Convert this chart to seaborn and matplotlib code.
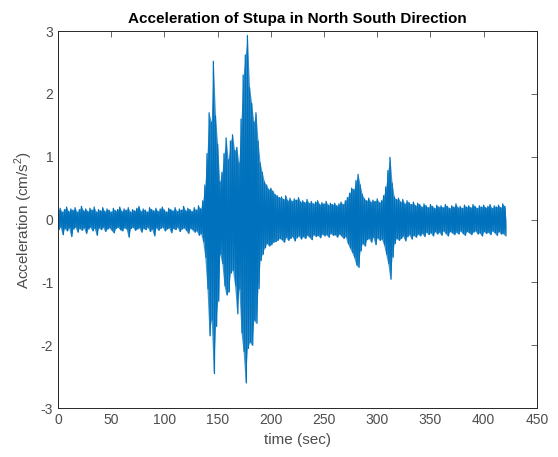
import numpy as np
import pandas as pd
import seaborn as sns
import matplotlib.pyplot as plt

# peak envelope, one pair (upper, lower) every 2 s
upper_pre = [0.14, 0.18, 0.12, 0.16, 0.20, 0.13, 0.17, 0.15, 0.19, 0.12,
             0.16, 0.21, 0.14, 0.17, 0.13, 0.18, 0.15, 0.20, 0.12, 0.16,
             0.14, 0.19, 0.13, 0.17, 0.15, 0.12, 0.18, 0.14, 0.16, 0.20,
             0.13, 0.17, 0.15, 0.19, 0.12, 0.16, 0.14, 0.18, 0.21, 0.13,
             0.17, 0.15, 0.12, 0.19, 0.16, 0.14, 0.18, 0.13, 0.17, 0.20,
             0.15, 0.12, 0.18, 0.16, 0.14, 0.19, 0.13, 0.17, 0.15, 0.21,
             0.14, 0.18, 0.16, 0.13, 0.19, 0.15, 0.22, 0.17]
lower_pre = [-0.16, -0.12, -0.24, -0.14, -0.18, -0.13, -0.27, -0.15, -0.12, -0.20,
             -0.14, -0.17, -0.13, -0.22, -0.15, -0.12, -0.18, -0.14, -0.25, -0.13,
             -0.16, -0.12, -0.19, -0.15, -0.13, -0.17, -0.21, -0.14, -0.12, -0.16,
             -0.18, -0.13, -0.15, -0.28, -0.14, -0.12, -0.17, -0.15, -0.13, -0.20,
             -0.14, -0.16, -0.12, -0.19, -0.15, -0.26, -0.13, -0.17, -0.14, -0.12,
             -0.18, -0.15, -0.13, -0.21, -0.14, -0.16, -0.12, -0.19, -0.15, -0.13,
             -0.17, -0.22, -0.14, -0.16, -0.20, -0.18, -0.25, -0.22]

# main shaking, 136 s .. 208 s
upper_event = [0.30, 0.55, 1.05, 1.70, 1.55, 2.52, 1.65, 1.20, 0.60, 0.75,
               1.05, 1.30, 0.95, 1.25, 1.35, 1.10, 1.15, 0.90, 1.60, 2.30,
               2.62, 2.93, 2.10, 1.85, 1.55, 1.70, 1.25, 0.90, 0.75, 0.60,
               0.55, 0.48, 0.50, 0.45, 0.40, 0.38, 0.35]
lower_event = [-0.35, -0.60, -1.10, -1.85, -1.60, -2.45, -1.70, -1.30, -0.55, -0.70,
               -1.05, -1.20, -1.15, -0.85, -0.80, -1.05, -1.50, -1.10, -1.80, -2.10,
               -2.60, -2.05, -1.95, -2.00, -1.60, -1.65, -1.10, -0.65, -0.55, -0.45,
               -0.38, -0.42, -0.40, -0.36, -0.35, -0.33, -0.30]

# coda with two aftershocks, 210 s .. 420 s
upper_coda = [0.36, 0.32, 0.38, 0.30, 0.34, 0.29, 0.33, 0.31, 0.35, 0.28,
              0.30, 0.27, 0.32, 0.26, 0.29, 0.25, 0.28, 0.30, 0.24, 0.27,
              0.25, 0.29, 0.23, 0.26, 0.24,
              0.26, 0.22, 0.25, 0.28, 0.24, 0.30, 0.35,
              0.42, 0.50, 0.48, 0.62, 0.72, 0.55, 0.40, 0.33, 0.30,
              0.34, 0.28, 0.31, 0.29, 0.33, 0.27, 0.30,
              0.38, 0.52, 0.78, 0.99, 0.58, 0.36, 0.32, 0.34,
              0.28, 0.32, 0.25, 0.30, 0.27, 0.24, 0.28, 0.22, 0.26, 0.24,
              0.20, 0.25, 0.22, 0.19, 0.24, 0.21, 0.18, 0.23, 0.20, 0.22,
              0.19, 0.24, 0.21, 0.18, 0.22, 0.20, 0.25, 0.19, 0.21, 0.18,
              0.23, 0.20, 0.22, 0.19, 0.24, 0.21, 0.18, 0.22, 0.20, 0.23,
              0.19, 0.21, 0.24, 0.18, 0.22, 0.20, 0.23, 0.19, 0.25, 0.21]
lower_coda = [-0.32, -0.36, -0.28, -0.33, -0.30, -0.27, -0.34, -0.29, -0.26, -0.31,
              -0.27, -0.30, -0.25, -0.28, -0.32, -0.24, -0.27, -0.25, -0.29, -0.23,
              -0.26, -0.24, -0.28, -0.22, -0.25,
              -0.24, -0.28, -0.23, -0.26, -0.30, -0.27, -0.38,
              -0.45, -0.52, -0.60, -0.72, -0.76, -0.50, -0.38, -0.42, -0.32,
              -0.30, -0.36, -0.28, -0.40, -0.29, -0.33, -0.31,
              -0.40, -0.55, -0.70, -0.95, -0.60, -0.38, -0.30, -0.33,
              -0.30, -0.26, -0.34, -0.27, -0.24, -0.31, -0.25, -0.28, -0.23, -0.26,
              -0.22, -0.27, -0.20, -0.24, -0.21, -0.26, -0.19, -0.23, -0.20, -0.25,
              -0.18, -0.22, -0.26, -0.19, -0.21, -0.24, -0.20, -0.23, -0.18, -0.22,
              -0.25, -0.19, -0.21, -0.24, -0.20, -0.18, -0.23, -0.21, -0.26, -0.19,
              -0.22, -0.20, -0.24, -0.18, -0.21, -0.25, -0.19, -0.23, -0.22, -0.26]

x_ticks = [0, 50, 100, 150, 200, 250, 300, 350, 400, 450]
y_ticks = [-3, -2, -1, 0, 1, 2, 3]

upper = upper_pre + upper_event + upper_coda
lower = lower_pre + lower_event + lower_coda
t_up = np.arange(len(upper)) * 2.0
t_lo = t_up + 1.0

# interleave upper and lower peaks into one trace
t = np.empty(2 * len(upper))
acc = np.empty(2 * len(upper))
t[0::2], t[1::2] = t_up, t_lo
acc[0::2], acc[1::2] = upper, lower
df = pd.DataFrame({'time': t, 'acc': acc})

sns.set_style('white')
plt.rcParams['font.family'] = ['Liberation Sans', 'DejaVu Sans']
plt.rcParams['mathtext.fontset'] = 'custom'
plt.rcParams['mathtext.rm'] = 'Liberation Sans'
plt.rcParams['axes.unicode_minus'] = False

blue = '#0072BD'
fig = plt.figure(figsize=(5.58, 4.57), dpi=100)
ax = fig.add_axes([0.104, 0.107, 0.858, 0.825])
# dense body of the record, then the peak-to-peak trace on top
ax.fill_between(t, np.minimum(acc, 0), np.maximum(acc, 0), color=blue,
                linewidth=0)
ax.fill_between(t_up, lower, upper, color=blue, alpha=0.75, linewidth=0)
sns.lineplot(data=df, x='time', y='acc', ax=ax, color=blue,
             linewidth=0.9, estimator=None, sort=False)

ax.set_xlim(0, 450)
ax.set_ylim(-3, 3)
ax.set_xticks(x_ticks)
ax.set_yticks(y_ticks)
tick_grey = '#4d4d4d'
for s in ax.spines.values():
    s.set_color('#262626')
    s.set_linewidth(0.7)
ax.tick_params(direction='in', length=4, width=0.6, colors=tick_grey,
               labelsize=10, top=True, right=True, labelcolor=tick_grey)
ax.set_xlabel('time (sec)', fontsize=11, color=tick_grey)
ax.set_ylabel('Acceleration (cm/s$^2$)', fontsize=11, color=tick_grey)
ax.set_title('Acceleration of Stupa in North South Direction',
             fontsize=11, fontweight='bold', color='black', pad=6)

fig.savefig('out.png', dpi=100)
